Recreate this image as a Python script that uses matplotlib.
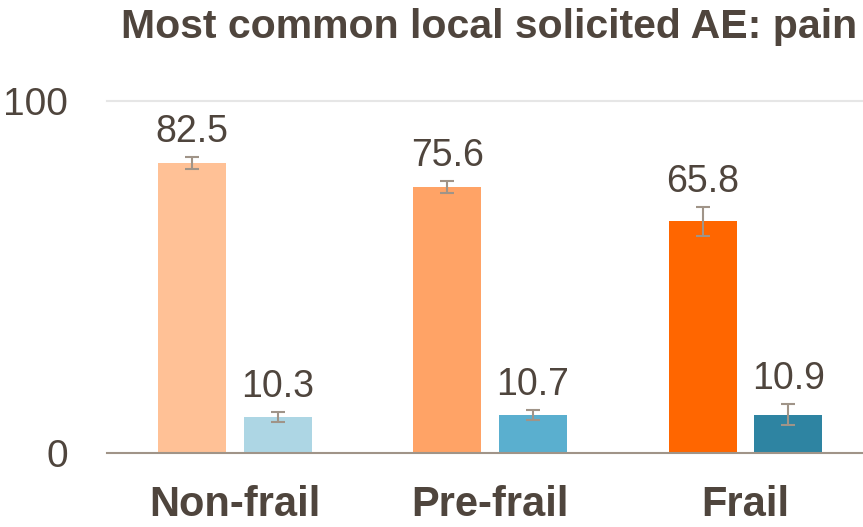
import matplotlib

matplotlib.use("Agg")
import matplotlib.pyplot as plt
import numpy as np

# Data
groups = ["Non-frail", "Pre-frail", "Frail"]
vaccine = [82.5, 75.6, 65.8]
vaccine_err = [1.7, 1.7, 4.1]
placebo = [10.3, 10.7, 10.9]
placebo_err = [1.4, 1.4, 3.0]

vaccine_colors = ["#FFC196", "#FFA366", "#FF6600"]
placebo_colors = ["#ADD6E4", "#5AAFCF", "#2E84A2"]
text_color = "#4F453D"
err_color = "#A09488"

plt.rcParams["font.family"] = ["Liberation Sans", "DejaVu Sans"]

fig = plt.figure(figsize=(8.63, 5.27), dpi=100)
ax = fig.add_axes([107 / 863, 1 - 453 / 527, (863 - 107) / 863, (453 - 101) / 527])

x = np.arange(len(groups))
w = 0.266
off = 0.168

ax.bar(x - off, vaccine, w, color=vaccine_colors, zorder=2)
ax.bar(x + off, placebo, w, color=placebo_colors, zorder=2)
ax.errorbar(x - off, vaccine, yerr=vaccine_err, fmt="none", ecolor=err_color,
            elinewidth=1.5, capsize=5, capthick=1.5, zorder=3)
ax.errorbar(x + off, placebo, yerr=placebo_err, fmt="none", ecolor=err_color,
            elinewidth=1.5, capsize=5, capthick=1.5, zorder=3)

for xi, v, e in zip(x - off, vaccine, vaccine_err):
    ax.text(xi, v + e + 2.0, f"{v:.1f}", ha="center", va="bottom",
            fontsize=27, color=text_color)
for xi, v, e in zip(x + off, placebo, placebo_err):
    ax.text(xi, v + e + 2.0, f"{v:.1f}", ha="center", va="bottom",
            fontsize=27, color=text_color)

ax.set_xlim(-0.5, 2.46)
ax.set_ylim(0, 100)
ax.set_yticks([0, 100])
ax.set_yticklabels(["0", "100"], fontsize=28, color=text_color)
ax.set_xticks(x)
ax.set_xticklabels(groups, fontsize=30, fontweight="bold", color=text_color)
ax.tick_params(axis="both", length=0)
ax.tick_params(axis="y", pad=28)
ax.tick_params(axis="x", pad=23)

ax.axhline(100, color="#E6E6E6", linewidth=1.5, zorder=1, clip_on=False)
for side in ["top", "right", "left"]:
    ax.spines[side].set_visible(False)
ax.spines["bottom"].set_color("#A09488")
ax.spines["bottom"].set_linewidth(1.5)

fig.text(489 / 863, 1 - 27 / 527, "Most common local solicited AE: pain", ha="center",
         va="center", fontsize=29.5, fontweight="bold", color=text_color)

fig.savefig("out.png", dpi=100)
